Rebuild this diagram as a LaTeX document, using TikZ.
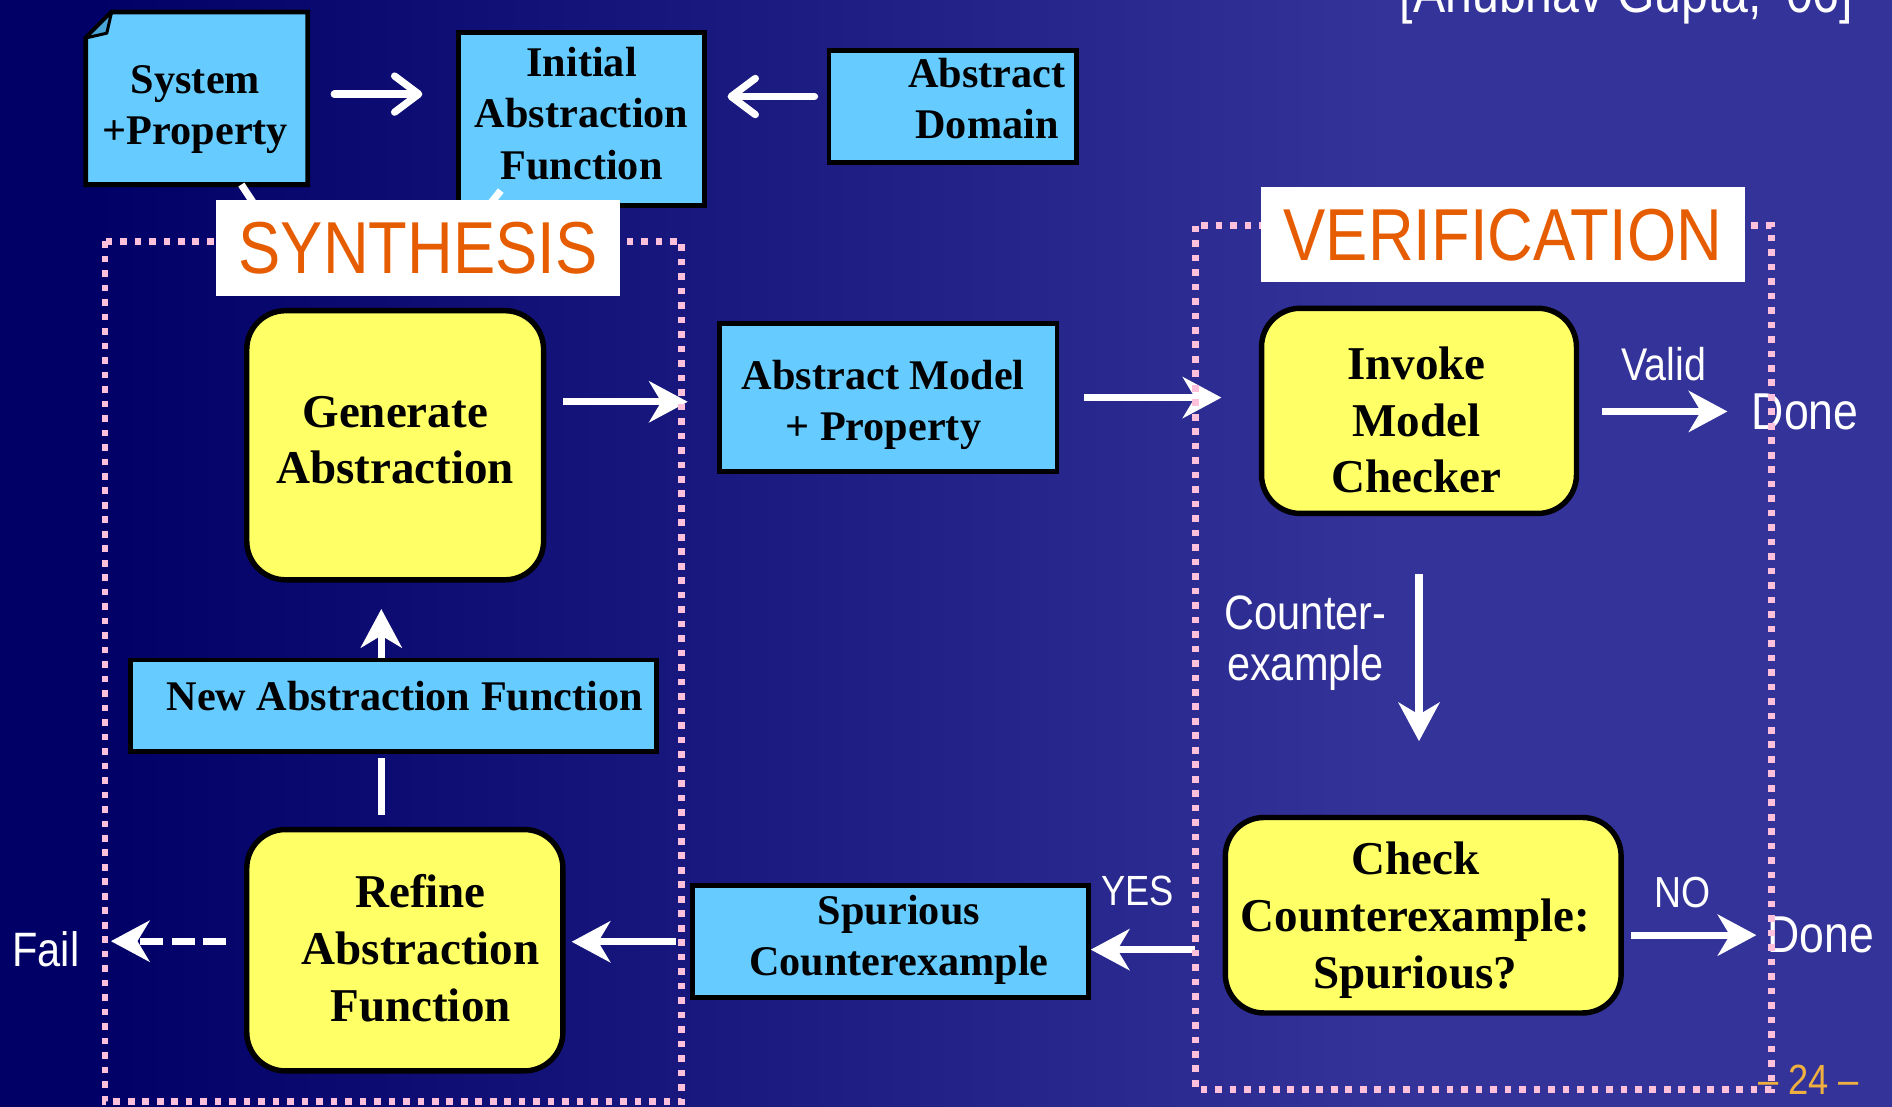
\documentclass[tikz,border=0pt]{standalone}
\usepackage{fontspec}
\setmainfont{Liberation Serif}
\newfontfamily\labfont[FakeStretch=0.86]{Liberation Sans}
\usetikzlibrary{arrows.meta,calc}
\definecolor{bgL}{HTML}{000066}
\definecolor{bgR}{HTML}{333399}
\definecolor{boxblue}{HTML}{66CCFF}
\definecolor{boxyellow}{HTML}{FFFF66}
\definecolor{dotpink}{HTML}{FFC0DC}
\definecolor{headorange}{HTML}{E65C00}
\definecolor{pagegold}{HTML}{F0B040}
\definecolor{folddark}{HTML}{4AA6D8}
% #1 = twice the horizontal shift, #2 = vertical raise
\newcommand\boxlines[3]{\hspace*{#1}\raisebox{#2}[\height][\depth]{\begin{tabular}{@{}c@{}}#3\end{tabular}}}
\begin{document}
\begin{tikzpicture}[x=1pt,y=-1pt,
  bluebox/.style={draw=black, line width=4pt, fill=boxblue, inner sep=0pt,
    font=\bfseries\fontsize{35}{42.5}\selectfont},
  yellowbox/.style={draw=black, line width=4.5pt, fill=boxyellow, rounded corners=32pt, inner sep=0pt,
    font=\bfseries\fontsize{39}{47}\selectfont},
  flowarrow/.style={white, line width=6pt, -{Stealth[length=32pt,width=34pt,inset=10pt]}},
  barbarrow/.style={white, line width=6pt, line cap=round, -{Straight Barb[length=20pt,width=30pt,round]}},
  wline/.style={white, line width=6pt},
  dotframe/.style={dotpink, line width=5.5pt, dash pattern=on 5.5pt off 6.5pt},
  sectiontag/.style={fill=white, inner sep=0pt, text=headorange, font=\labfont\fontsize{61}{61}\selectfont},
  whitelab/.style={text=white, inner sep=0pt}
]
\useasboundingbox (0,0) rectangle (1568,917);
\clip (0,0) rectangle (1568,917);
% background
\fill[bgL] (-10,-10) rectangle (80,930);
\shade[left color=bgL, right color=bgR] (78,-10) rectangle (1151,930);
\fill[bgR] (1150,-10) rectangle (1580,930);

% System+Property document shape
\path[draw=black, line width=4pt, fill=boxblue, line join=miter]
  (92.5,10) -- (255,10) -- (255,153) -- (71,153) -- (71,31.5) -- cycle;
\path[draw=black, line width=2.5pt, fill=folddark, line join=round]
  (92.5,10) -- (88.5,27.5) -- (71,31.5) -- cycle;
\node[bluebox, draw=none, fill=none, minimum width=184pt, minimum height=143pt] (sys) at (163,81.5) {\boxlines{-2pt}{-8.5pt}{System\\+Property}};

% boxes
\node[bluebox, minimum width=204pt, minimum height=143pt] (init) at (482,98.5) {\boxlines{0pt}{1pt}{Initial\\Abstraction\\Function}};
\node[bluebox, minimum width=205pt, minimum height=93pt] (dom) at (789.5,88.5) {\boxlines{57pt}{3.5pt}{Abstract\\Domain}};
\node[bluebox, minimum width=280pt, minimum height=123pt] (model) at (736,329.5) {\boxlines{-8pt}{-6pt}{Abstract Model\\+ Property}};
\node[bluebox, minimum width=328pt, minimum height=93pt] (spur) at (738,780.5) {\boxlines{14pt}{1.5pt}{Spurious\\Counterexample}};
\node[bluebox, minimum width=436pt, minimum height=76pt] (newf) at (326,585) {\boxlines{19pt}{5pt}{New Abstraction Function}};

\node[yellowbox, minimum width=246pt, minimum height=223pt] (gen) at (327.5,369) {\boxlines{0pt}{1pt}{Generate\\Abstraction}};
\node[yellowbox, minimum width=261pt, minimum height=170pt] (inv) at (1176,340.5) {\boxlines{-4pt}{-11.5pt}{Invoke\\Model\\Checker}};
\node[yellowbox, minimum width=328pt, minimum height=162pt] (chk) at (1179.5,758.5) {\boxlines{-13pt}{-4pt}{Check\\Counterexample:\\Spurious?}};
\node[yellowbox, minimum width=262pt, minimum height=200pt] (ref) at (335.5,787.5) {\boxlines{26pt}{-2.5pt}{Refine\\Abstraction\\Function}};

% white labels
\node[whitelab, font=\labfont\fontsize{38}{38}\selectfont] (valid) at (1379,302) {Valid};
\node[whitelab, font=\labfont\fontsize{43}{43}\selectfont] (done1) at (1496,341) {Done};
\node[whitelab, font=\labfont\fontsize{40}{42}\selectfont, align=center] (cex) at (1082,533) {Counter-\\example};
\node[whitelab, font=\labfont\fontsize{43}{43}\selectfont] (done2) at (1509,775) {Done};
\node[whitelab, font=\labfont\fontsize{36}{36}\selectfont] (no) at (1394,740) {NO};
\node[whitelab, font=\labfont\fontsize{35}{35}\selectfont] (yes) at (943,738) {YES};
\node[whitelab, font=\labfont\fontsize{40}{40}\selectfont] (fail) at (38,787) {Fail};

% connectors
\coordinate (a) at ($(sys.east)+(0,-3.5)$);
\draw[barbarrow, shorten <=20pt, shorten >=28pt] (a) -- (a -| init.west);
\coordinate (a2) at ($(dom.west)+(0,-8.5)$);
\draw[barbarrow, shorten <=10pt, shorten >=17pt] (a2) -- (a2 -| init.east);
\draw[wline, shorten >=16pt] ($(sys.south)+(37,-2)$) -- ($(gen.north)+(-60,0)$);
\draw[wline, shorten >=16pt] ($(init.south)+(-67,-14)$) -- ($(gen.north)+(10,0)$);
\coordinate (b) at ($(model.west)+(0,3.5)$);
\draw[flowarrow, shorten <=14pt, shorten >=24pt] (b -| gen.east) -- (b);
\draw[flowarrow, shorten <=20pt, shorten >=31pt] (model.east) -- (model.east -| inv.west);
\draw[flowarrow, shorten <=19pt, shorten >=20pt] (done1.west -| inv.east) -- (done1.west);
\draw[flowarrow, shorten <=48pt, shorten >=61pt] (inv.south) -- (inv.south |- chk.north);
\draw[flowarrow, shorten <=6pt, shorten >=9pt] (done2.west -| chk.east) -- (done2.west);
\coordinate (c) at ($(spur.east)+(0,6.5)$);
\draw[flowarrow, shorten <=23pt] (c -| chk.west) -- (c);
\draw[flowarrow, shorten <=12pt, shorten >=5pt] (spur.west) -- (spur.west -| ref.east);
\coordinate (d) at ($(ref.west)+(0,-7.5)$);
\draw[flowarrow, dash pattern=on 19pt off 7pt, shorten <=15pt, shorten >=26pt] (d) -- (d -| fail.east);
\coordinate (e) at ($(newf.south)+(-10,0)$);
\draw[wline, shorten <=10pt, shorten >=3pt] (e |- ref.north) -- (e);
\coordinate (f) at ($(newf.north)+(-10,0)$);
\draw[flowarrow, shorten >=22pt] (f) -- (f |- gen.south);

% dotted frames
\draw[dotframe] (87,200) rectangle (565,913);
\draw[dotframe] (991,187) rectangle (1468,903);

% section tags
\node[sectiontag, minimum width=335pt, minimum height=79pt] (synt) at (346.5,205.5) {SYNTHESIS};
\node[sectiontag, minimum width=401pt, minimum height=79pt] (veri) at (1245.5,194.5) {VERIFICATION};

% page number and citation
\node[text=pagegold, inner sep=0pt, anchor=east, font=\labfont\fontsize{35}{35}\selectfont] (pg) at (1541,895) {– 24 –};
\node[text=white, inner sep=0pt, anchor=base east, font=\labfont\fontsize{46.5}{46.5}\selectfont] (cite) at (1536,10) {[Anubhav Gupta, ’06]};
\end{tikzpicture}
\end{document}
